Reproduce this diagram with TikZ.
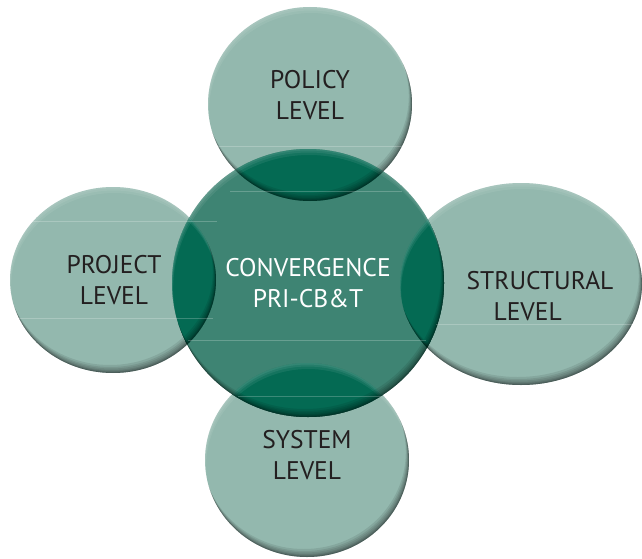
\documentclass[tikz,border=0pt]{standalone}
\usepackage{fontspec}
\setmainfont{PT Sans}
\definecolor{lightg}{HTML}{93B8AE}
\definecolor{midg}{HTML}{3E8473}
\definecolor{darkg}{HTML}{046A53}
\definecolor{txt}{HTML}{231F20}
\newcommand\myshape[4]{(#1,#2) ellipse [x radius=#3pt, y radius=#4pt]}
\newcommand\mybevel[4]{%
  \begin{scope}
    \clip \myshape{#1}{#2}{#3}{#4};
    \foreach \d in {8,6,4.5,3,2,1.2,0.6}{
      \fill[black,opacity=0.09,even odd rule] (-20,-20) rectangle (700,600) \myshape{#1-0.4*\d}{#2-\d}{#3}{#4};
    }
    \foreach \d in {6,3.5,1.5}{
      \fill[white,opacity=0.07,even odd rule] (-20,-20) rectangle (700,600) \myshape{#1+0.2*\d}{#2+\d}{#3}{#4};
    }
  \end{scope}}
\newcommand\myoverlap[8]{%
  \begin{scope}
    \clip \myshape{#5}{#6}{#7}{#8};
    \clip \myshape{#1}{#2}{#3}{#4};
    \fill[darkg] (-20,-20) rectangle (700,600);
    \mybevel{#1}{#2}{#3}{#4}
    \mybevel{#5}{#6}{#7}{#8}
  \end{scope}}
\tikzset{
  lbl/.style={font=\fontsize{25.5}{31}\selectfont, text=txt, align=center, inner sep=0pt},
  clbl/.style={lbl, text=white},
  faint/.style={white, opacity=0.22, line width=0.7pt}
}
\begin{document}
\begin{tikzpicture}[x=1pt,y=-1pt]
\useasboundingbox (0,0) rectangle (642,559);
% outer shapes
\foreach \cx/\cy/\rx/\ry in {310/104/102/97, 113/280/103/93, 521/284/121/101, 307/460/102/97}{
  \fill[lightg] \myshape{\cx}{\cy}{\rx}{\ry};
  \mybevel{\cx}{\cy}{\rx}{\ry}
}
% centre
\fill[midg] \myshape{308}{283}{136}{134};
\mybevel{308}{283}{136}{134}
% overlaps
\myoverlap{310}{104}{102}{97}{308}{283}{136}{134}
\myoverlap{113}{280}{103}{93}{308}{283}{136}{134}
\myoverlap{521}{284}{121}{101}{308}{283}{136}{134}
\myoverlap{307}{460}{102}{97}{308}{283}{136}{134}
% faint slice lines
\coordinate (f1a) at (213,146); \coordinate (f1b) at (406,146);
\coordinate (f2a) at (230,191); \coordinate (f2b) at (402,191);
\coordinate (f3a) at (31,221);  \coordinate (f3b) at (217,221);
\coordinate (f4a) at (18,318);  \coordinate (f4b) at (213,318);
\coordinate (f5a) at (188,340); \coordinate (f5b) at (426,340);
\coordinate (f6a) at (436,324); \coordinate (f6b) at (640,324);
\coordinate (f7a) at (238,396); \coordinate (f7b) at (381,396);
\foreach \i in {1,...,7}{\draw[faint] (f\i a) -- (f\i b);}
% labels
\node[lbl] (policy) at (310,95) {POLICY\\LEVEL};
\node[lbl] (project) at (114,280) {PROJECT\\LEVEL};
\node[clbl] (conv) at (308,283) {CONVERGENCE\\PRI-CB\&T};
\node[lbl, align=left] (struct) at (540,296) {STRUCTURAL\\\hspace*{27pt}LEVEL};
\node[lbl] (system) at (307,455) {SYSTEM\\LEVEL};
\end{tikzpicture}
\end{document}
